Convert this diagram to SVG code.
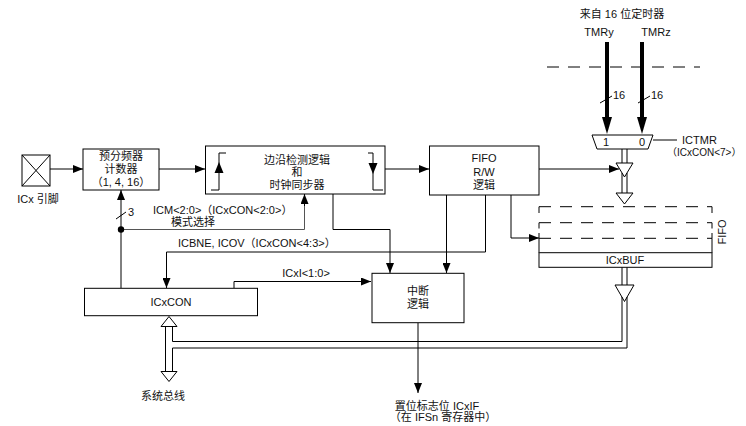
<svg xmlns="http://www.w3.org/2000/svg" width="746" height="426" viewBox="0 0 746 426">
<defs>
<marker id="ah" viewBox="0 0 10 8" refX="10" refY="4" markerWidth="10" markerHeight="8" markerUnits="userSpaceOnUse" orient="auto">
<path d="M0,0 L10,4 L0,8 Z" fill="#000"/>
</marker>
</defs>
<style>
text{font-family:"Liberation Sans","Noto Sans CJK SC",sans-serif;font-size:11px;fill:#111}
.c{text-anchor:middle}
.box{fill:#fff;stroke:#000;stroke-width:1}
.ln{fill:none;stroke:#000;stroke-width:1}
.ar{fill:none;stroke:#000;stroke-width:1;marker-end:url(#ah)}
.gr{fill:none;stroke:#555;stroke-width:1}
.dash{fill:none;stroke:#000;stroke-width:1;stroke-dasharray:12 9}
.hol{fill:#fff;stroke:#000;stroke-width:1}
.thick{fill:none;stroke:#000;stroke-width:4}
</style>

<g id="connectors">
  <line class="ar" x1="50" y1="169" x2="83" y2="169"/>
  <line class="ar" x1="159" y1="169" x2="205" y2="169"/>
  <line class="ar" x1="385" y1="169" x2="429" y2="169"/>
  <line class="ar" x1="539" y1="169" x2="619" y2="169"/>
  <polyline class="ar" points="333,194 333,229.5 390,229.5 390,273"/>
  <line class="ar" x1="446.5" y1="195" x2="446.5" y2="273"/>
  <polyline class="ar" points="485.5,195 485.5,252 166.5,252 166.5,288"/>
  <polyline class="ar" points="511,195 511,238 539,238"/>
  <polyline class="ar" points="234,288 234,281.5 371,281.5"/>
  <line class="ar" x1="121" y1="288" x2="121" y2="190"/>
  <polyline class="gr" points="121,229.5 304.5,229.5 304.5,204"/>
  <line class="ar" x1="304.5" y1="206" x2="304.5" y2="194"/>
  <circle cx="121" cy="229.5" r="3.2" fill="#000"/>
  <line class="ln" x1="116" y1="219" x2="126" y2="212"/>
  <text x="128" y="216">3</text>
  <line class="ar" x1="418" y1="323" x2="418" y2="393"/>
  <line class="ln" x1="653" y1="140" x2="677" y2="140"/>
  <!-- TMR thick arrows -->
  <line class="thick" x1="607" y1="42" x2="607" y2="118"/>
  <polygon points="602,117 612,117 607,134" fill="#000"/>
  <line class="thick" x1="642" y1="42" x2="642" y2="118"/>
  <polygon points="637,117 647,117 642,134" fill="#000"/>
  <line class="ln" x1="600" y1="103" x2="612" y2="96"/>
  <text x="613" y="99">16</text>
  <line class="ln" x1="638" y1="103" x2="650" y2="96"/>
  <text x="651" y="99">16</text>
  <line class="dash" x1="547" y1="67" x2="700" y2="67"/>
  <!-- bus from mux -->
  <line class="ln" x1="622" y1="149" x2="622" y2="163"/>
  <line class="ln" x1="627" y1="149" x2="627" y2="163"/>
  <polygon class="hol" points="616,163 633,163 624.5,177"/>
  <line class="ln" x1="622" y1="173" x2="622" y2="193"/>
  <line class="ln" x1="627" y1="173" x2="627" y2="193"/>
  <polygon class="hol" points="616,193 633,193 624.5,204"/>
  <!-- bus from ICxBUF -->
  <line class="ln" x1="622" y1="267" x2="622" y2="285"/>
  <line class="ln" x1="627" y1="267" x2="627" y2="285"/>
  <polygon class="hol" points="615,285 634,285 624.5,301.5"/>
  <polyline class="ln" points="622,297 622,341.5 172.5,341.5"/>
  <polyline class="ln" points="627,297 627,348 172.5,348"/>
  <!-- system bus double arrow -->
  <polygon class="hol" points="161,326.5 177,326.5 169,316.5"/>
  <polygon class="hol" points="161,371.5 177,371.5 169,381.5"/>
  <line class="ln" x1="165.5" y1="326.5" x2="165.5" y2="371.5"/>
  <line class="ln" x1="172.5" y1="326.5" x2="172.5" y2="341.5"/>
  <line class="ln" x1="172.5" y1="348" x2="172.5" y2="371.5"/>
</g>

<g id="pin">
  <rect class="box" x="22" y="155" width="28" height="31"/>
  <line class="ln" x1="22" y1="155" x2="50" y2="186"/>
  <line class="ln" x1="50" y1="155" x2="22" y2="186"/>
  <text class="c" x="38" y="203">ICx 引脚</text>
</g>

<g id="prescaler">
  <rect class="box" x="83" y="149" width="76" height="41"/>
  <text class="c" x="121" y="160">预分频器</text>
  <text class="c" x="121" y="173">计数器</text>
  <text class="c" x="121" y="185.5">（1, 4, 16）</text>
</g>

<g id="edge">
  <rect class="box" x="205.5" y="146" width="179.5" height="48"/>
  <polyline class="ln" points="226,153 219,153 219,190 211,190"/>
  <polygon points="214.5,173 223.5,173 219,162" fill="#000"/>
  <polyline class="ln" points="368,153 373,153 373,190 383,190"/>
  <polygon points="368.5,163 377.5,163 373,174" fill="#000"/>
  <text class="c" x="297" y="164">边沿检测逻辑</text>
  <text class="c" x="297" y="176">和</text>
  <text class="c" x="297" y="189">时钟同步器</text>
</g>

<g id="fiforw">
  <rect class="box" x="429.5" y="146" width="109.5" height="49"/>
  <text class="c" x="484" y="162">FIFO</text>
  <text class="c" x="484" y="175.5">R/W</text>
  <text class="c" x="484" y="189">逻辑</text>
</g>

<g id="timers">
  <text class="c" x="622" y="18">来自 16 位定时器</text>
  <text class="c" x="599" y="36">TMRy</text>
  <text class="c" x="656" y="36">TMRz</text>
</g>

<g id="mux">
  <polygon class="box" points="592,135 653,135 648,149 597,149"/>
  <text class="c" x="606" y="146">1</text>
  <text class="c" x="642" y="146">0</text>
  <text x="682" y="144">ICTMR</text>
  <text x="667" y="156" style="font-size:10px">（ICxCON&lt;7&gt;）</text>
</g>

<g id="fifo">
  <line class="dash" x1="539" y1="206.7" x2="712" y2="206.7"/>
  <line class="dash" x1="539" y1="222.7" x2="712" y2="222.7"/>
  <line class="dash" x1="539" y1="238.3" x2="712" y2="238.3"/>
  <line class="ln" x1="539" y1="206.7" x2="539" y2="213"/>
  <line class="ln" x1="539" y1="222.7" x2="539" y2="228.5"/>
  <line class="ln" x1="539" y1="233" x2="539" y2="238.3"/>
  <line class="ln" x1="712" y1="206.7" x2="712" y2="213"/>
  <line class="ln" x1="712" y1="222.7" x2="712" y2="228.5"/>
  <line class="ln" x1="712" y1="233" x2="712" y2="238.3"/>
  <line class="ln" x1="539" y1="238.3" x2="539" y2="252.7"/>
  <line class="ln" x1="712" y1="238.3" x2="712" y2="252.7"/>
  <rect class="box" x="539" y="252.7" width="173" height="14.6"/>
  <text class="c" x="625" y="264">ICxBUF</text>
  <text class="c" transform="translate(726,232) rotate(-90)">FIFO</text>
</g>

<g id="icxcon">
  <rect class="box" x="84.5" y="288.3" width="173" height="27.4"/>
  <text class="c" x="171" y="306">ICxCON</text>
</g>

<g id="interrupt">
  <rect class="box" x="372" y="273.3" width="92" height="49.4"/>
  <text class="c" x="418" y="294.5">中断</text>
  <text class="c" x="418" y="307.5">逻辑</text>
</g>

<g id="labels">
  <text x="153" y="214">ICM&lt;2:0&gt;（ICxCON&lt;2:0&gt;）</text>
  <text class="c" x="193" y="226">模式选择</text>
  <text x="178" y="247">ICBNE, ICOV（ICxCON&lt;4:3&gt;）</text>
  <text class="c" x="306" y="277">ICxI&lt;1:0&gt;</text>
  <text class="c" x="163" y="400">系统总线</text>
  <text class="c" x="437" y="410">置位标志位 ICxIF</text>
  <text class="c" x="443" y="421">（在 IFSn 寄存器中）</text>
</g>
</svg>
